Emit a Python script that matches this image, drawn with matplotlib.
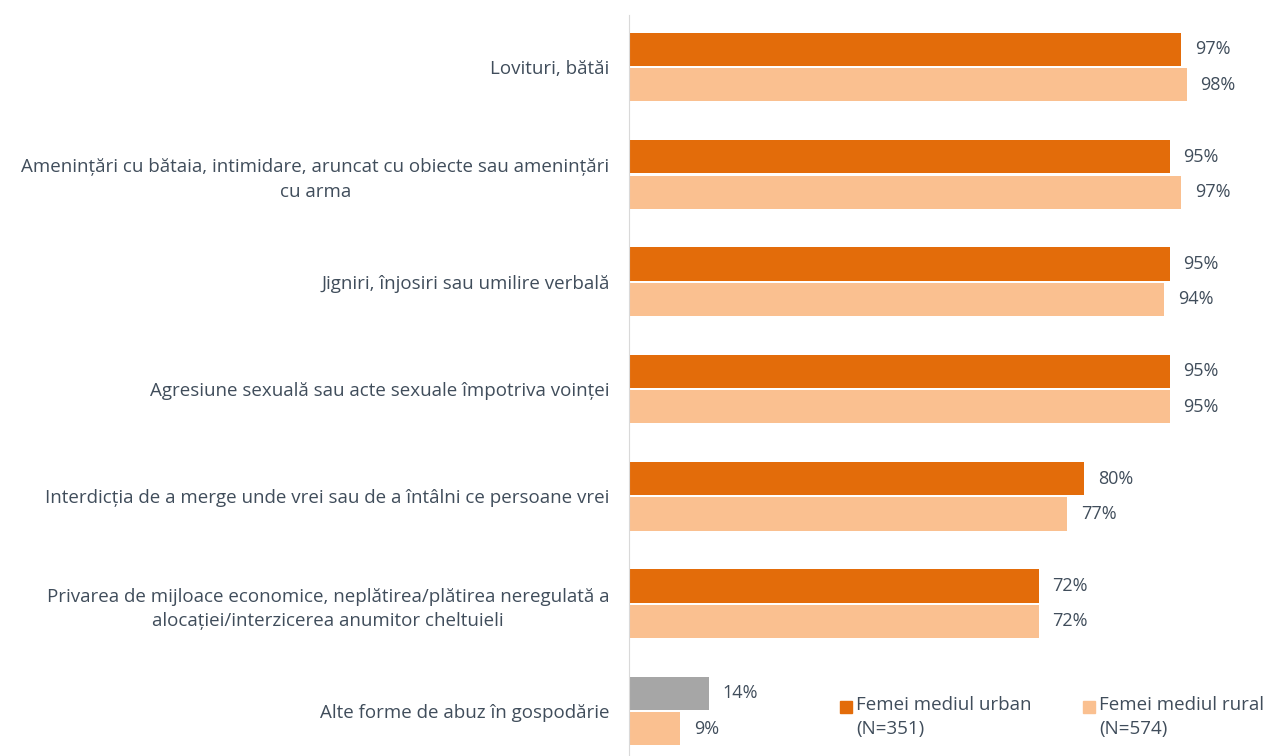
import matplotlib
matplotlib.use("Agg")
import matplotlib.pyplot as plt
from matplotlib.patches import Rectangle

plt.rcParams['font.family'] = ['Open Sans', 'DejaVu Sans']

# date
categorii = [
    "Lovituri, bătăi",
    "Amenințări cu bătaia, intimidare, aruncat cu obiecte sau amenințări\ncu arma",
    "Jigniri, înjosiri sau umilire verbală",
    "Agresiune sexuală sau acte sexuale împotriva voinței",
    "Interdicția de a merge unde vrei sau de a întâlni ce persoane vrei",
    "Privarea de mijloace economice, neplătirea/plătirea neregulată a\nalocației/interzicerea anumitor cheltuieli",
    "Alte forme de abuz în gospodărie",
]
urban = [97, 95, 95, 95, 80, 72, 14]
rural = [98, 97, 94, 95, 77, 72, 9]
legenda = ["Femei mediul urban\n(N=351)", "Femei mediul rural\n(N=574)"]

c_urban = "#E36C0A"
c_rural = "#FAC090"
c_gri = "#A6A6A6"
c_text = "#404D5B"
fs = 13.5

fig = plt.figure(figsize=(12.68, 7.56), dpi=100)
ax = fig.add_axes([0.496, 0.0, 0.504, 0.980])

h = 0.31
off = 0.165
y = list(range(len(categorii)))
culori_urban = [c_urban] * (len(urban) - 1) + [c_gri]
ax.barh([i - off for i in y], urban, height=h, color=culori_urban)
ax.barh([i + off for i in y], rural, height=h, color=c_rural)

for i in y:
    ax.annotate(f"{urban[i]}%", (urban[i], i - off), xytext=(10, 0),
                textcoords="offset points", va="center", ha="left",
                fontsize=13, color=c_text)
    ax.annotate(f"{rural[i]}%", (rural[i], i + off), xytext=(10, 0),
                textcoords="offset points", va="center", ha="left",
                fontsize=13, color=c_text)

ax.set_xlim(0, 112.3)
ax.set_ylim(6.42, -0.485)
ax.set_yticks(y)
ax.set_yticklabels(categorii, fontsize=fs, color=c_text, multialignment="center",
                   linespacing=1.45)
ax.tick_params(axis="y", length=0, pad=14)
ax.set_xticks([])
for s in ["top", "right", "bottom"]:
    ax.spines[s].set_visible(False)
ax.spines["left"].set_color("#D9D9D9")

# legenda
W, H = 1268, 756
for (x0, lbl, col) in [(840, legenda[0], c_urban), (1083, legenda[1], c_rural)]:
    fig.patches.append(Rectangle((x0 / W, 1 - 713 / H), 12 / W, 12 / H,
                                 transform=fig.transFigure, color=col))
    fig.text((x0 + 16) / W, 1 - 696 / H, lbl, fontsize=fs, color=c_text,
             va="top", ha="left", linespacing=1.45)

fig.savefig("out.png", dpi=100)
